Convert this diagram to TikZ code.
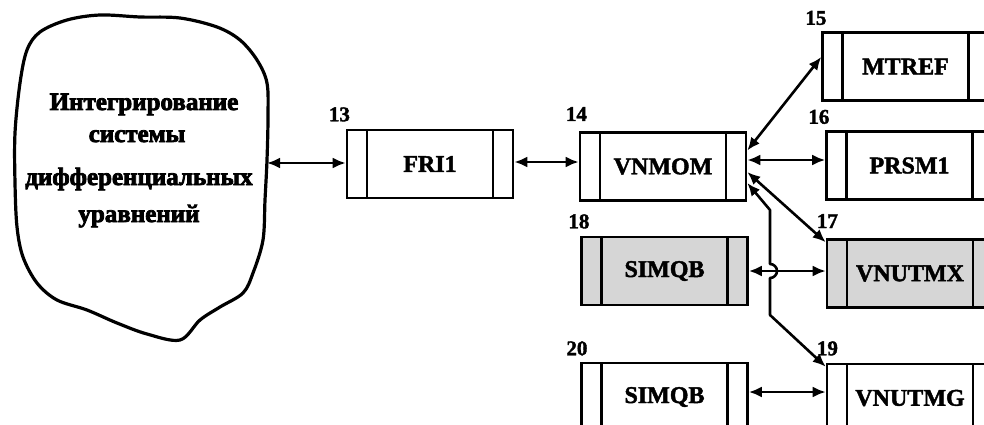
\documentclass[tikz,border=0pt]{standalone}
\usepackage{fontspec}
\setmainfont{Liberation Serif}
\newfontfamily\heavyfont[FakeBold=1.8]{Liberation Serif Bold}
\newfontfamily\blobfont[FakeBold=3.2]{Liberation Serif Bold}
\usetikzlibrary{arrows.meta}
\tikzset{
  boxnode/.style={draw, line width=2.6pt, minimum width=166pt, minimum height=68pt, inner sep=0pt,
    font=\heavyfont\fontsize{24}{26}\selectfont,
    path picture={\draw[line width=2.2pt]
      ([xshift=20pt]path picture bounding box.north west) -- ([xshift=20pt]path picture bounding box.south west)
      ([xshift=-20pt]path picture bounding box.north east) -- ([xshift=-20pt]path picture bounding box.south east);}},
  shadebox/.style={boxnode, fill=gray!32},
  numlab/.style={anchor=south west, inner sep=0pt, font=\heavyfont\fontsize{21}{23}\selectfont},
  blobtext/.style={anchor=base, inner sep=0pt, font=\blobfont\fontsize{25}{27}\selectfont},
  dbl/.style={line width=2.6pt, {Latex[length=13pt,width=11pt]}-{Latex[length=13pt,width=11pt]}},
}
\begin{document}
\begin{tikzpicture}[x=1pt,y=-1pt]
\useasboundingbox (0,0) rectangle (984,425);
\clip (0,0) rectangle (984,425);
% blob
\draw[line width=3.2pt, line join=round] plot[smooth cycle, tension=0.55] coordinates {
 (40,32) (67,20) (100,15) (140,17) (180,18) (217,27) (240,40) (257,60) (267,83)
 (268,117) (267,160) (265,200) (263,240) (253,273) (243,293) (220,307) (200,320)
 (180,340) (147,334) (117,323) (87,310) (57,300) (37,283) (23,257) (17,227)
 (15,183) (15,133) (20,83) (27,50)};
\node[blobtext] (t1) at (144,110) {Интегрирование};
\node[blobtext] (t2) at (137,142) {системы};
\node[blobtext] (t3) at (139,185) {дифференциальных};
\node[blobtext] (t4) at (139,222) {уравнений};
\coordinate (blobR) at (267,163);
% boxes
\node[boxnode] (fri) at (430,164) {FRI1};
\node[boxnode] (vnmom) at (663,166.5) {VNMOM};
\node[boxnode] (mtref) at (905.5,66.5) {MTREF};
\node[boxnode] (prsm) at (909.5,165.5) {PRSM1};
\node[shadebox] (vnutmx) at (910,273.5) {VNUTMX};
\node[shadebox] (s18) at (664.5,271) {SIMQB};
\node[boxnode] (s20) at (664.5,397) {SIMQB};
\node[boxnode] (vnutmg) at (910,398) {VNUTMG};
% labels
\node[numlab] (l13) at ([xshift=-17pt,yshift=7pt]fri.north west) {13};
\node[numlab] (l14) at ([xshift=-13pt,yshift=10pt]vnmom.north west) {14};
\node[numlab] (l15) at ([xshift=-16pt,yshift=6pt]mtref.north west) {15};
\node[numlab] (l16) at ([xshift=-17pt,yshift=6pt]prsm.north west) {16};
\node[numlab] (l17) at ([xshift=-9pt,yshift=10pt]vnutmx.north west) {17};
\node[numlab] (l18) at ([xshift=-12pt,yshift=7pt]s18.north west) {18};
\node[numlab] (l20) at ([xshift=-14pt,yshift=6pt]s20.north west) {20};
\node[numlab] (l19) at ([xshift=-9pt,yshift=7pt]vnutmg.north west) {19};
% connectors
\draw[dbl] (blobR) -- (blobR -| fri.west);
\draw[dbl] ([yshift=2pt]fri.east) -- ([yshift=2pt]fri.east -| vnmom.west);
\draw[dbl] ([yshift=16pt]vnmom.east) -- ([yshift=9.5pt]mtref.west);
\draw[dbl] ([yshift=6.5pt]vnmom.east) -- ([yshift=6.5pt]vnmom.east -| prsm.west);
\draw[dbl] ([yshift=-5.5pt]vnmom.east) -- ([yshift=-4pt]vnutmx.north west);
\coordinate (b1) at (770,210);
\coordinate (h1) at (770,264);
\coordinate (b2) at (770,315);
\draw[dbl, line join=round] ([yshift=-16.5pt]vnmom.east) -- (b1) -- (h1)
  arc[start angle=90, end angle=-90, radius=7pt] -- (b2) -- ([yshift=-4pt]vnutmg.north west);
\draw[dbl] (s18.east) -- (s18.east -| vnutmx.west);
\draw[dbl] ([yshift=5pt]s20.east) -- ([yshift=5pt]s20.east -| vnutmg.west);
\end{tikzpicture}
\end{document}
